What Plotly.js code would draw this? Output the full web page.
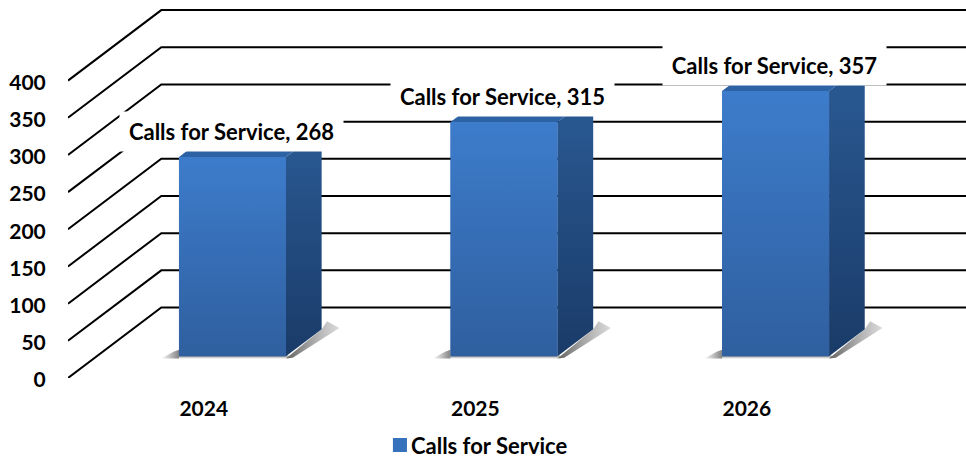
<!DOCTYPE html>
<html><head><meta charset="utf-8">
<script src="https://cdn.plot.ly/plotly-3.0.1.min.js"></script>
<style>html,body{margin:0;padding:0;background:#fff}#c{width:966px;height:459px}
.legend .legendpoints path{transform:translate(29px,0) scale(1.17)}
.yaxislayer-above{transform:translate(1px,2px)}
</style>
</head><body><div id="c"></div>
<script>
var categories = ['2024', '2025', '2026'];
var callValues = [268, 315, 357];
var seriesName = 'Calls for Service';
var yTicks = [0, 50, 100, 150, 200, 250, 300, 350, 400];

var catPos = [0, 1, 2];
var FONT = 'Lato, Carlito, sans-serif';
var DX = 0.3436, DY = 94.8;       // full depth of the floor in axis units
var XMIN = -0.5, XMAX = 2.807, YMAX = 508.4;
var barDepthStart = 0.3075, barDepthEnd = 0.69, barHalf = 0.197;

function P(x, v, d) { return [x + d * DX, v + d * DY]; }
function poly(points) { return {x: points.map(function(p){return p[0];}), y: points.map(function(p){return p[1];})}; }
function grad(c0, c1, type) { return {type: type || 'vertical', colorscale: [[0, c0], [1, c1]]}; }
function shadow(points, gradient) {
  var q = poly(points);
  return {type:'scatter', mode:'none', x:q.x, y:q.y, fill:'toself', fillgradient:gradient, showlegend:false, hoverinfo:'skip'};
}

var traces = [];
// main series (bar trace, front faces)
traces.push({type: 'bar', name: seriesName, x: catPos.map(function(c){return c + barDepthStart*DX;}),
  y: callValues, base: callValues.map(function(){return barDepthStart*DY;}),
  width: barHalf*2, marker: {color: '#3672bb'}, showlegend: true, hoverinfo: 'y'});

// wall and floor lines
yTicks.forEach(function(v) {
  var a = P(XMIN, v, 0), b = P(XMIN, v, 1), c = [XMAX, v + DY], q = poly([a, b, c]);
  traces.push({type: 'scatter', mode: 'lines', x: q.x, y: q.y, showlegend: false, hoverinfo: 'skip',
    line: {color: '#000', width: 2}});
});

// floor shadows
catPos.forEach(function(c) {
  var l = c - barHalf, r = c + barHalf;
  var f0 = P(l, 0, barDepthStart), f1 = P(r, 0, barDepthStart), b1 = P(r, 0, barDepthEnd);
  traces.push(shadow([[f0[0]-0.066, f0[1]-3], [f0[0], f0[1]-3], [f0[0], f0[1]+9], [f0[0]-0.02, f0[1]+6], [f0[0]-0.066, f0[1]-3]],
    grad('rgba(110,110,110,0)', 'rgba(110,110,110,0.85)', 'horizontal')));
  traces.push(shadow([[f0[0], f0[1]-3.5], [f1[0]+0.01, f1[1]-3.5], [f1[0]+0.01, f1[1]+1], [f0[0], f0[1]+1], [f0[0], f0[1]-3.5]],
    grad('rgba(110,110,110,0)', 'rgba(110,110,110,0.8)')));
  traces.push(shadow([[f1[0], f1[1]-3], [f1[0]+0.025, f1[1]-2], [b1[0]+0.065, b1[1]+2], [b1[0]+0.02, b1[1]+11], [b1[0], b1[1]], [f1[0], f1[1]-3]],
    grad('rgba(90,90,90,0.95)', 'rgba(150,150,150,0.35)', 'horizontal')));
});

// bar solids from the values
catPos.forEach(function(c, i) {
  var v = callValues[i], l = c - barHalf, r = c + barHalf, d0 = barDepthStart, d1 = barDepthEnd;
  var front = poly([P(l,0,d0), P(r,0,d0), P(r,v,d0), P(l,v,d0), P(l,0,d0)]);
  var side = poly([P(r,0,d0), P(r,0,d1), P(r,v,d1), P(r,v,d0), P(r,0,d0)]);
  var top = poly([P(l,v,d0), P(r,v,d0), P(r,v,d1), P(l,v,d1), P(l,v,d0)]);
  traces.push({type:'scatter', mode:'lines', x:side.x, y:side.y, fill:'toself', fillgradient:grad('#1a3b68','#2a5a94'),
    line:{width:0, color:'#1f4474'}, showlegend:false, hoverinfo:'skip'});
  traces.push({type:'scatter', mode:'lines', x:top.x, y:top.y, fill:'toself', fillcolor:'#2d62a4',
    line:{width:0, color:'#2d62a4'}, showlegend:false, hoverinfo:'skip'});
  traces.push({type:'scatter', mode:'lines', x:front.x, y:front.y, fill:'toself', fillgradient:grad('#2f5f9f','#3d7ccb'),
    line:{width:0, color:'#3672bb'}, showlegend:false, hoverinfo:'skip'});
});

var annotations = catPos.map(function(c, i) {
  var p = P(c - 0.005, callValues[i], barDepthStart);
  return {x: p[0], y: p[1] + 34, xref:'x', yref:'y', showarrow:false, bgcolor:'#fff', width:221, height:37,
    text: '<b>' + seriesName + ', ' + callValues[i] + '</b>', font:{family:FONT, size:22, color:'#000'}};
});

var layout = {
  width: 966, height: 459, paper_bgcolor:'#fff', plot_bgcolor:'#fff',
  margin: {l:68, r:0, t:0, b:81}, barmode:'overlay',
  xaxis: {type:'linear', range:[XMIN, XMAX], tickmode:'array', tickvals:catPos, ticktext:categories, showgrid:false, zeroline:false,
    showline:false, ticks:'outside', ticklen:12, tickcolor:'rgba(0,0,0,0)', tickfont:{family:FONT, size:21, color:'#000', weight:'bold'}},
  yaxis: {range:[0, YMAX], tickmode:'array', tickvals:yTicks, ticktext:yTicks.map(String), showgrid:false, zeroline:false,
    showline:false, ticks:'outside', ticklen:18, tickcolor:'rgba(0,0,0,0)', tickfont:{family:FONT, size:21, color:'#000', weight:'bold'}},
  showlegend:true,
  legend:{orientation:'h', xref:'container', yref:'container', x:0.384, xanchor:'left', y:0.03, yanchor:'middle',
    font:{family:FONT, size:22, color:'#000', weight:'bold'}, itemwidth:30, bgcolor:'rgba(0,0,0,0)'},
  annotations: annotations
};
Plotly.newPlot('c', traces, layout, {displayModeBar:false, staticPlot:true});
</script></body></html>
